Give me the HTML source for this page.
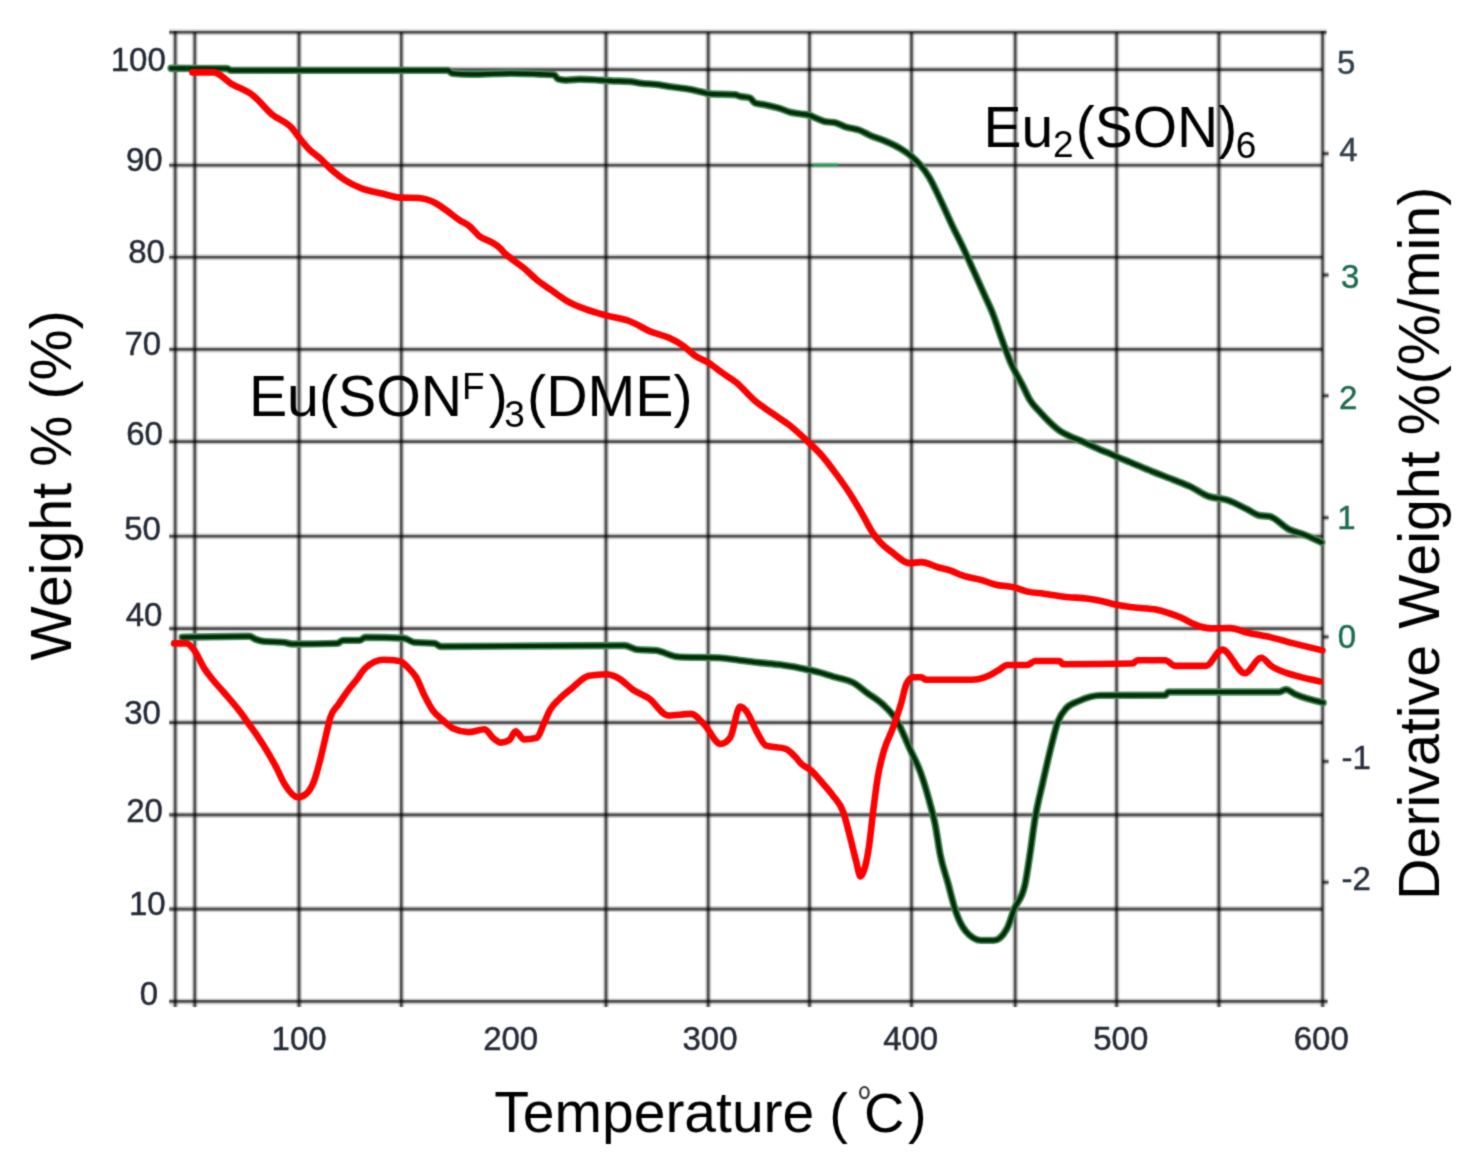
<!DOCTYPE html>
<html><head><meta charset="utf-8"><title>TGA</title>
<style>html,body{margin:0;padding:0;background:#fff;}body{width:1473px;height:1171px;overflow:hidden;}svg{display:block;font-family:"Liberation Sans",sans-serif;}</style></head><body>
<svg width="1473" height="1171" viewBox="0 0 1473 1171">
<defs><filter id="soft" filterUnits="userSpaceOnUse" x="0" y="0" width="1473" height="1171" color-interpolation-filters="sRGB"><feConvolveMatrix order="3" kernelMatrix="0.03240 0.11520 0.03240 0.11520 0.40960 0.11520 0.03240 0.11520 0.03240" divisor="1" edgeMode="duplicate" preserveAlpha="true"/></filter></defs>
<g filter="url(#soft)">
<rect width="1473" height="1171" fill="#fff"/>
<g fill="#000">
<text transform="translate(71,485.4) rotate(-90)" font-size="57.5" text-anchor="middle">Weight % (%)</text>
<text transform="translate(1439,543.3) rotate(-90)" font-size="57.4" text-anchor="middle">Derivative Weight %(%/min)</text>
<text x="494.3" y="1131.5" font-size="57">Temperature</text>
<text x="829.3" y="1131.5" font-size="56">(</text>
<ellipse cx="864.4" cy="1092.6" rx="4.3" ry="5.6" fill="none" stroke="#333" stroke-width="2.2"/>
<text x="864.1" y="1131.5" font-size="56">C</text>
<text x="908.1" y="1131.5" font-size="56">)</text>
<text x="983.4" y="146.6" font-size="57">Eu</text>
<text x="1053.0" y="157.2" font-size="37">2</text>
<text x="1075.7" y="146.6" font-size="57">(SON)</text>
<text x="1235.8" y="158.3" font-size="37">6</text>
<text x="248.9" y="415.7" font-size="57.3">Eu(SON</text>
<text x="462.0" y="398.5" font-size="37">F</text>
<text x="488.8" y="415.7" font-size="57.3">)</text>
<text x="504.3" y="426.7" font-size="37">3</text>
<text x="527.1" y="415.7" font-size="57.3">(DME)</text>
</g>
<g stroke="#000" fill="none">
<line x1="194.8" y1="32.2" x2="194.8" y2="1006.9" stroke-width="6.0" stroke-opacity="0.2"/>
<line x1="299.0" y1="32.2" x2="299.0" y2="1006.9" stroke-width="6.0" stroke-opacity="0.2"/>
<line x1="401.3" y1="32.2" x2="401.3" y2="1006.9" stroke-width="6.0" stroke-opacity="0.2"/>
<line x1="606.0" y1="32.2" x2="606.0" y2="1006.9" stroke-width="6.0" stroke-opacity="0.2"/>
<line x1="708.2" y1="32.2" x2="708.2" y2="1006.9" stroke-width="6.0" stroke-opacity="0.2"/>
<line x1="809.5" y1="32.2" x2="809.5" y2="1006.9" stroke-width="6.0" stroke-opacity="0.2"/>
<line x1="911.5" y1="32.2" x2="911.5" y2="1006.9" stroke-width="6.0" stroke-opacity="0.2"/>
<line x1="1015.2" y1="32.2" x2="1015.2" y2="1006.9" stroke-width="6.0" stroke-opacity="0.2"/>
<line x1="1116.6" y1="32.2" x2="1116.6" y2="1006.9" stroke-width="6.0" stroke-opacity="0.2"/>
<line x1="1218.9" y1="32.2" x2="1218.9" y2="1006.9" stroke-width="6.0" stroke-opacity="0.2"/>
<line x1="169.2" y1="69.6" x2="1322.6" y2="69.6" stroke-width="6.0" stroke-opacity="0.2"/>
<line x1="169.2" y1="165.2" x2="1322.6" y2="165.2" stroke-width="6.0" stroke-opacity="0.2"/>
<line x1="169.2" y1="257.2" x2="1322.6" y2="257.2" stroke-width="6.0" stroke-opacity="0.2"/>
<line x1="169.2" y1="349.4" x2="1322.6" y2="349.4" stroke-width="6.0" stroke-opacity="0.2"/>
<line x1="169.2" y1="441.6" x2="1322.6" y2="441.6" stroke-width="6.0" stroke-opacity="0.2"/>
<line x1="169.2" y1="536.2" x2="1322.6" y2="536.2" stroke-width="6.0" stroke-opacity="0.2"/>
<line x1="169.2" y1="628.6" x2="1322.6" y2="628.6" stroke-width="6.0" stroke-opacity="0.2"/>
<line x1="169.2" y1="722.6" x2="1322.6" y2="722.6" stroke-width="6.0" stroke-opacity="0.2"/>
<line x1="169.2" y1="814.9" x2="1322.6" y2="814.9" stroke-width="6.0" stroke-opacity="0.2"/>
<line x1="169.2" y1="909.1" x2="1322.6" y2="909.1" stroke-width="6.0" stroke-opacity="0.2"/>
<line x1="175.2" y1="31.200000000000003" x2="175.2" y2="1006.9" stroke-width="6.0" stroke-opacity="0.2"/>
<line x1="1322.6" y1="31.200000000000003" x2="1322.6" y2="1006.9" stroke-width="6.0" stroke-opacity="0.2"/>
<line x1="169.2" y1="32.2" x2="1326.6" y2="32.2" stroke-width="6.0" stroke-opacity="0.2"/>
<line x1="169.2" y1="1001.4" x2="1327.6" y2="1001.4" stroke-width="6.0" stroke-opacity="0.2"/>
<line x1="1322.6" y1="153.6" x2="1328.6" y2="153.6" stroke-width="6.0" stroke-opacity="0.2"/>
<line x1="1322.6" y1="275.0" x2="1328.6" y2="275.0" stroke-width="6.0" stroke-opacity="0.2"/>
<line x1="1322.6" y1="395.8" x2="1328.6" y2="395.8" stroke-width="6.0" stroke-opacity="0.2"/>
<line x1="1322.6" y1="517.7" x2="1328.6" y2="517.7" stroke-width="6.0" stroke-opacity="0.2"/>
<line x1="1322.6" y1="636.9" x2="1328.6" y2="636.9" stroke-width="6.0" stroke-opacity="0.2"/>
<line x1="1322.6" y1="761.4" x2="1328.6" y2="761.4" stroke-width="6.0" stroke-opacity="0.2"/>
<line x1="1322.6" y1="882.3" x2="1328.6" y2="882.3" stroke-width="6.0" stroke-opacity="0.2"/>
<line x1="194.8" y1="32.2" x2="194.8" y2="1006.9" stroke-width="2.6" stroke-opacity="0.6"/>
<line x1="299.0" y1="32.2" x2="299.0" y2="1006.9" stroke-width="2.6" stroke-opacity="0.6"/>
<line x1="401.3" y1="32.2" x2="401.3" y2="1006.9" stroke-width="2.6" stroke-opacity="0.6"/>
<line x1="606.0" y1="32.2" x2="606.0" y2="1006.9" stroke-width="2.6" stroke-opacity="0.6"/>
<line x1="708.2" y1="32.2" x2="708.2" y2="1006.9" stroke-width="2.6" stroke-opacity="0.6"/>
<line x1="809.5" y1="32.2" x2="809.5" y2="1006.9" stroke-width="2.6" stroke-opacity="0.6"/>
<line x1="911.5" y1="32.2" x2="911.5" y2="1006.9" stroke-width="2.6" stroke-opacity="0.6"/>
<line x1="1015.2" y1="32.2" x2="1015.2" y2="1006.9" stroke-width="2.6" stroke-opacity="0.6"/>
<line x1="1116.6" y1="32.2" x2="1116.6" y2="1006.9" stroke-width="2.6" stroke-opacity="0.6"/>
<line x1="1218.9" y1="32.2" x2="1218.9" y2="1006.9" stroke-width="2.6" stroke-opacity="0.6"/>
<line x1="169.2" y1="69.6" x2="1322.6" y2="69.6" stroke-width="2.6" stroke-opacity="0.6"/>
<line x1="169.2" y1="165.2" x2="1322.6" y2="165.2" stroke-width="2.6" stroke-opacity="0.6"/>
<line x1="169.2" y1="257.2" x2="1322.6" y2="257.2" stroke-width="2.6" stroke-opacity="0.6"/>
<line x1="169.2" y1="349.4" x2="1322.6" y2="349.4" stroke-width="2.6" stroke-opacity="0.6"/>
<line x1="169.2" y1="441.6" x2="1322.6" y2="441.6" stroke-width="2.6" stroke-opacity="0.6"/>
<line x1="169.2" y1="536.2" x2="1322.6" y2="536.2" stroke-width="2.6" stroke-opacity="0.6"/>
<line x1="169.2" y1="628.6" x2="1322.6" y2="628.6" stroke-width="2.6" stroke-opacity="0.6"/>
<line x1="169.2" y1="722.6" x2="1322.6" y2="722.6" stroke-width="2.6" stroke-opacity="0.6"/>
<line x1="169.2" y1="814.9" x2="1322.6" y2="814.9" stroke-width="2.6" stroke-opacity="0.6"/>
<line x1="169.2" y1="909.1" x2="1322.6" y2="909.1" stroke-width="2.6" stroke-opacity="0.6"/>
<line x1="175.2" y1="31.200000000000003" x2="175.2" y2="1006.9" stroke-width="2.6" stroke-opacity="0.6"/>
<line x1="1322.6" y1="31.200000000000003" x2="1322.6" y2="1006.9" stroke-width="2.6" stroke-opacity="0.6"/>
<line x1="169.2" y1="32.2" x2="1326.6" y2="32.2" stroke-width="2.6" stroke-opacity="0.6"/>
<line x1="169.2" y1="1001.4" x2="1327.6" y2="1001.4" stroke-width="2.6" stroke-opacity="0.6"/>
<line x1="1322.6" y1="153.6" x2="1328.6" y2="153.6" stroke-width="2.6" stroke-opacity="0.6"/>
<line x1="1322.6" y1="275.0" x2="1328.6" y2="275.0" stroke-width="2.6" stroke-opacity="0.6"/>
<line x1="1322.6" y1="395.8" x2="1328.6" y2="395.8" stroke-width="2.6" stroke-opacity="0.6"/>
<line x1="1322.6" y1="517.7" x2="1328.6" y2="517.7" stroke-width="2.6" stroke-opacity="0.6"/>
<line x1="1322.6" y1="636.9" x2="1328.6" y2="636.9" stroke-width="2.6" stroke-opacity="0.6"/>
<line x1="1322.6" y1="761.4" x2="1328.6" y2="761.4" stroke-width="2.6" stroke-opacity="0.6"/>
<line x1="1322.6" y1="882.3" x2="1328.6" y2="882.3" stroke-width="2.6" stroke-opacity="0.6"/>
</g>
<line x1="813" y1="164.8" x2="838" y2="164.8" stroke="#10b050" stroke-width="2.6" stroke-opacity="0.85"/>
<path d="M171.00,68.30 C189.67,68.33 208.33,68.37 227.00,68.50 C228.33,68.51 229.67,70.40 231.00,70.40 C303.33,70.40 375.67,70.40 448.00,70.40 C449.40,70.40 450.80,73.15 452.20,73.30 C458.30,73.97 464.40,74.30 470.50,74.30 C484.10,74.30 497.70,73.30 511.30,73.30 C520.87,73.30 530.43,73.83 540.00,74.20 C544.67,74.38 549.33,74.40 554.00,74.80 C555.33,74.91 556.67,78.60 558.00,79.00 C560.67,79.80 563.33,80.20 566.00,80.20 C570.67,80.20 575.33,79.30 580.00,79.30 C586.67,79.30 593.33,79.83 600.00,80.20 C603.33,80.38 606.67,80.63 610.00,80.80 C616.67,81.14 623.33,81.03 630.00,81.50 C633.33,81.73 636.67,82.65 640.00,83.10 C646.67,84.00 653.33,83.77 660.00,84.80 C663.33,85.32 666.67,86.13 670.00,86.70 C676.67,87.84 683.33,88.12 690.00,89.40 C693.33,90.04 696.67,90.87 700.00,91.60 C703.33,92.33 706.67,93.56 710.00,93.80 C718.33,94.40 726.67,94.10 735.00,94.70 C736.67,94.82 738.33,95.86 740.00,96.30 C743.33,97.19 746.67,96.83 750.00,97.90 C751.67,98.43 753.33,102.40 755.00,103.00 C758.33,104.20 761.67,104.11 765.00,104.80 C770.00,105.83 775.00,106.90 780.00,108.50 C783.33,109.57 786.67,111.32 790.00,112.20 C793.33,113.08 796.67,113.27 800.00,113.80 C803.33,114.33 806.67,114.33 810.00,115.40 C811.67,115.93 813.33,116.97 815.00,117.70 C818.33,119.16 821.67,120.93 825.00,121.60 C828.33,122.27 831.67,121.93 835.00,122.60 C838.33,123.27 841.67,125.55 845.00,126.70 C850.00,128.42 855.00,128.44 860.00,130.40 C863.33,131.71 866.67,133.81 870.00,135.30 C875.00,137.53 880.00,138.83 885.00,141.00 C890.00,143.17 895.00,145.26 900.00,148.30 C903.33,150.33 906.67,152.48 910.00,155.20 C913.33,157.92 916.67,160.70 920.00,164.60 C923.00,168.11 926.00,172.05 929.00,177.00 C932.97,183.54 936.93,192.59 940.90,200.90 C944.57,208.58 948.23,217.06 951.90,224.80 C955.80,233.03 959.70,240.39 963.60,248.70 C967.20,256.37 970.80,264.63 974.40,272.60 C978.00,280.57 981.60,288.44 985.20,296.50 C987.77,302.25 990.33,307.38 992.90,313.90 C995.70,321.01 998.50,330.09 1001.30,337.80 C1004.30,346.06 1007.30,354.66 1010.30,361.70 C1014.47,371.48 1018.63,377.49 1022.80,385.70 C1025.20,390.43 1027.60,396.11 1030.00,400.10 C1033.33,405.64 1036.67,408.27 1040.00,412.00 C1043.33,415.73 1046.67,419.33 1050.00,422.50 C1053.33,425.67 1056.67,428.68 1060.00,431.00 C1063.33,433.32 1066.67,434.82 1070.00,436.40 C1073.33,437.98 1076.67,439.03 1080.00,440.50 C1083.33,441.97 1086.67,443.67 1090.00,445.20 C1093.33,446.73 1096.67,448.28 1100.00,449.70 C1103.33,451.12 1106.67,452.30 1110.00,453.70 C1113.33,455.10 1116.67,456.68 1120.00,458.10 C1123.33,459.52 1126.67,460.82 1130.00,462.20 C1137.37,465.25 1144.73,468.53 1152.10,471.50 C1159.17,474.35 1166.23,476.89 1173.30,479.70 C1179.27,482.08 1185.23,484.12 1191.20,487.00 C1196.63,489.63 1202.07,493.85 1207.50,496.00 C1214.03,498.59 1220.57,497.92 1227.10,500.10 C1233.60,502.27 1240.10,505.88 1246.60,509.00 C1250.97,511.10 1255.33,514.70 1259.70,515.50 C1262.97,516.10 1266.23,515.80 1269.50,516.40 C1276.00,517.59 1282.50,526.19 1289.00,529.40 C1294.43,532.08 1299.87,532.93 1305.30,535.10 C1310.73,537.27 1316.17,539.83 1321.60,542.40" stroke="#4a8a5e" stroke-width="7.4" fill="none" stroke-linejoin="round" stroke-linecap="round"/>
<path d="M171.00,68.30 C189.67,68.33 208.33,68.37 227.00,68.50 C228.33,68.51 229.67,70.40 231.00,70.40 C303.33,70.40 375.67,70.40 448.00,70.40 C449.40,70.40 450.80,73.15 452.20,73.30 C458.30,73.97 464.40,74.30 470.50,74.30 C484.10,74.30 497.70,73.30 511.30,73.30 C520.87,73.30 530.43,73.83 540.00,74.20 C544.67,74.38 549.33,74.40 554.00,74.80 C555.33,74.91 556.67,78.60 558.00,79.00 C560.67,79.80 563.33,80.20 566.00,80.20 C570.67,80.20 575.33,79.30 580.00,79.30 C586.67,79.30 593.33,79.83 600.00,80.20 C603.33,80.38 606.67,80.63 610.00,80.80 C616.67,81.14 623.33,81.03 630.00,81.50 C633.33,81.73 636.67,82.65 640.00,83.10 C646.67,84.00 653.33,83.77 660.00,84.80 C663.33,85.32 666.67,86.13 670.00,86.70 C676.67,87.84 683.33,88.12 690.00,89.40 C693.33,90.04 696.67,90.87 700.00,91.60 C703.33,92.33 706.67,93.56 710.00,93.80 C718.33,94.40 726.67,94.10 735.00,94.70 C736.67,94.82 738.33,95.86 740.00,96.30 C743.33,97.19 746.67,96.83 750.00,97.90 C751.67,98.43 753.33,102.40 755.00,103.00 C758.33,104.20 761.67,104.11 765.00,104.80 C770.00,105.83 775.00,106.90 780.00,108.50 C783.33,109.57 786.67,111.32 790.00,112.20 C793.33,113.08 796.67,113.27 800.00,113.80 C803.33,114.33 806.67,114.33 810.00,115.40 C811.67,115.93 813.33,116.97 815.00,117.70 C818.33,119.16 821.67,120.93 825.00,121.60 C828.33,122.27 831.67,121.93 835.00,122.60 C838.33,123.27 841.67,125.55 845.00,126.70 C850.00,128.42 855.00,128.44 860.00,130.40 C863.33,131.71 866.67,133.81 870.00,135.30 C875.00,137.53 880.00,138.83 885.00,141.00 C890.00,143.17 895.00,145.26 900.00,148.30 C903.33,150.33 906.67,152.48 910.00,155.20 C913.33,157.92 916.67,160.70 920.00,164.60 C923.00,168.11 926.00,172.05 929.00,177.00 C932.97,183.54 936.93,192.59 940.90,200.90 C944.57,208.58 948.23,217.06 951.90,224.80 C955.80,233.03 959.70,240.39 963.60,248.70 C967.20,256.37 970.80,264.63 974.40,272.60 C978.00,280.57 981.60,288.44 985.20,296.50 C987.77,302.25 990.33,307.38 992.90,313.90 C995.70,321.01 998.50,330.09 1001.30,337.80 C1004.30,346.06 1007.30,354.66 1010.30,361.70 C1014.47,371.48 1018.63,377.49 1022.80,385.70 C1025.20,390.43 1027.60,396.11 1030.00,400.10 C1033.33,405.64 1036.67,408.27 1040.00,412.00 C1043.33,415.73 1046.67,419.33 1050.00,422.50 C1053.33,425.67 1056.67,428.68 1060.00,431.00 C1063.33,433.32 1066.67,434.82 1070.00,436.40 C1073.33,437.98 1076.67,439.03 1080.00,440.50 C1083.33,441.97 1086.67,443.67 1090.00,445.20 C1093.33,446.73 1096.67,448.28 1100.00,449.70 C1103.33,451.12 1106.67,452.30 1110.00,453.70 C1113.33,455.10 1116.67,456.68 1120.00,458.10 C1123.33,459.52 1126.67,460.82 1130.00,462.20 C1137.37,465.25 1144.73,468.53 1152.10,471.50 C1159.17,474.35 1166.23,476.89 1173.30,479.70 C1179.27,482.08 1185.23,484.12 1191.20,487.00 C1196.63,489.63 1202.07,493.85 1207.50,496.00 C1214.03,498.59 1220.57,497.92 1227.10,500.10 C1233.60,502.27 1240.10,505.88 1246.60,509.00 C1250.97,511.10 1255.33,514.70 1259.70,515.50 C1262.97,516.10 1266.23,515.80 1269.50,516.40 C1276.00,517.59 1282.50,526.19 1289.00,529.40 C1294.43,532.08 1299.87,532.93 1305.30,535.10 C1310.73,537.27 1316.17,539.83 1321.60,542.40" stroke="#002f06" stroke-width="4.2" fill="none" stroke-linejoin="round" stroke-linecap="round"/>
<path d="M182.20,637.30 C204.60,636.80 227.00,636.30 249.40,636.30 C251.43,636.30 253.47,638.50 255.50,639.30 C258.23,640.37 260.97,641.13 263.70,641.40 C270.47,642.07 277.23,641.73 284.00,642.40 C286.73,642.67 289.47,644.00 292.20,644.00 C307.13,644.00 322.07,643.80 337.00,643.40 C339.03,643.35 341.07,640.40 343.10,640.40 C348.53,640.40 353.97,640.40 359.40,640.40 C361.43,640.40 363.47,637.30 365.50,637.30 C378.40,637.30 391.30,637.63 404.20,638.30 C407.60,638.48 411.00,642.07 414.40,642.40 C421.20,643.07 428.00,642.73 434.80,643.40 C436.83,643.60 438.87,646.50 440.90,646.50 C502.07,646.50 563.23,645.50 624.40,645.50 C628.77,645.50 633.13,649.21 637.50,649.60 C643.47,650.13 649.43,649.87 655.40,650.40 C663.00,651.08 670.60,656.54 678.20,656.90 C692.13,657.57 706.07,657.23 720.00,657.90 C726.67,658.22 733.33,659.50 740.00,660.30 C746.67,661.10 753.33,661.97 760.00,662.70 C766.67,663.43 773.33,663.80 780.00,664.70 C786.67,665.60 793.33,666.80 800.00,668.10 C806.67,669.40 813.33,670.65 820.00,672.50 C824.23,673.68 828.47,675.18 832.70,676.50 C839.83,678.73 846.97,678.93 854.10,683.10 C858.37,685.59 862.63,689.50 866.90,692.70 C872.60,696.97 878.30,699.85 884.00,705.50 C888.27,709.73 892.53,713.37 896.80,720.50 C901.07,727.63 905.33,738.98 909.60,748.30 C913.17,756.09 916.73,761.94 920.30,771.80 C923.17,779.72 926.03,788.96 928.90,799.50 C931.03,807.34 933.17,814.24 935.30,825.20 C936.93,833.59 938.57,846.28 940.20,854.60 C942.77,867.67 945.33,873.40 947.90,882.80 C950.47,892.20 953.03,903.45 955.60,911.00 C959.03,921.10 962.47,927.36 965.90,931.40 C971.00,937.40 976.10,940.40 981.20,940.40 C985.47,940.40 989.73,940.40 994.00,940.40 C998.27,940.40 1002.53,936.57 1006.80,928.90 C1009.37,924.29 1011.93,914.76 1014.50,908.40 C1017.93,899.89 1021.37,900.73 1024.80,885.40 C1026.50,877.81 1028.20,865.70 1029.90,854.60 C1031.60,843.50 1033.30,829.14 1035.00,818.80 C1037.57,803.19 1040.13,794.43 1042.70,782.90 C1045.27,771.37 1047.83,759.89 1050.40,749.60 C1052.93,739.44 1055.47,728.31 1058.00,721.50 C1060.67,714.33 1063.33,711.58 1066.00,708.50 C1070.33,703.50 1074.67,702.98 1079.00,701.00 C1086.13,697.73 1093.27,695.44 1100.40,695.40 C1122.00,695.27 1143.60,695.33 1165.20,695.20 C1166.27,695.19 1167.33,692.00 1168.40,692.00 C1205.33,692.00 1242.27,692.00 1279.20,692.00 C1281.37,692.00 1283.53,689.50 1285.70,689.50 C1288.97,689.50 1292.23,692.94 1295.50,694.40 C1304.73,698.52 1313.97,700.56 1323.20,702.60" stroke="#4a8a5e" stroke-width="7.4" fill="none" stroke-linejoin="round" stroke-linecap="round"/>
<path d="M182.20,637.30 C204.60,636.80 227.00,636.30 249.40,636.30 C251.43,636.30 253.47,638.50 255.50,639.30 C258.23,640.37 260.97,641.13 263.70,641.40 C270.47,642.07 277.23,641.73 284.00,642.40 C286.73,642.67 289.47,644.00 292.20,644.00 C307.13,644.00 322.07,643.80 337.00,643.40 C339.03,643.35 341.07,640.40 343.10,640.40 C348.53,640.40 353.97,640.40 359.40,640.40 C361.43,640.40 363.47,637.30 365.50,637.30 C378.40,637.30 391.30,637.63 404.20,638.30 C407.60,638.48 411.00,642.07 414.40,642.40 C421.20,643.07 428.00,642.73 434.80,643.40 C436.83,643.60 438.87,646.50 440.90,646.50 C502.07,646.50 563.23,645.50 624.40,645.50 C628.77,645.50 633.13,649.21 637.50,649.60 C643.47,650.13 649.43,649.87 655.40,650.40 C663.00,651.08 670.60,656.54 678.20,656.90 C692.13,657.57 706.07,657.23 720.00,657.90 C726.67,658.22 733.33,659.50 740.00,660.30 C746.67,661.10 753.33,661.97 760.00,662.70 C766.67,663.43 773.33,663.80 780.00,664.70 C786.67,665.60 793.33,666.80 800.00,668.10 C806.67,669.40 813.33,670.65 820.00,672.50 C824.23,673.68 828.47,675.18 832.70,676.50 C839.83,678.73 846.97,678.93 854.10,683.10 C858.37,685.59 862.63,689.50 866.90,692.70 C872.60,696.97 878.30,699.85 884.00,705.50 C888.27,709.73 892.53,713.37 896.80,720.50 C901.07,727.63 905.33,738.98 909.60,748.30 C913.17,756.09 916.73,761.94 920.30,771.80 C923.17,779.72 926.03,788.96 928.90,799.50 C931.03,807.34 933.17,814.24 935.30,825.20 C936.93,833.59 938.57,846.28 940.20,854.60 C942.77,867.67 945.33,873.40 947.90,882.80 C950.47,892.20 953.03,903.45 955.60,911.00 C959.03,921.10 962.47,927.36 965.90,931.40 C971.00,937.40 976.10,940.40 981.20,940.40 C985.47,940.40 989.73,940.40 994.00,940.40 C998.27,940.40 1002.53,936.57 1006.80,928.90 C1009.37,924.29 1011.93,914.76 1014.50,908.40 C1017.93,899.89 1021.37,900.73 1024.80,885.40 C1026.50,877.81 1028.20,865.70 1029.90,854.60 C1031.60,843.50 1033.30,829.14 1035.00,818.80 C1037.57,803.19 1040.13,794.43 1042.70,782.90 C1045.27,771.37 1047.83,759.89 1050.40,749.60 C1052.93,739.44 1055.47,728.31 1058.00,721.50 C1060.67,714.33 1063.33,711.58 1066.00,708.50 C1070.33,703.50 1074.67,702.98 1079.00,701.00 C1086.13,697.73 1093.27,695.44 1100.40,695.40 C1122.00,695.27 1143.60,695.33 1165.20,695.20 C1166.27,695.19 1167.33,692.00 1168.40,692.00 C1205.33,692.00 1242.27,692.00 1279.20,692.00 C1281.37,692.00 1283.53,689.50 1285.70,689.50 C1288.97,689.50 1292.23,692.94 1295.50,694.40 C1304.73,698.52 1313.97,700.56 1323.20,702.60" stroke="#002f06" stroke-width="4.2" fill="none" stroke-linejoin="round" stroke-linecap="round"/>
<path d="M192.40,72.40 C199.53,72.40 206.67,72.40 213.80,72.40 C219.53,72.40 225.27,80.14 231.00,83.60 C238.50,88.13 246.00,89.82 253.50,95.80 C259.60,100.67 265.70,108.96 271.80,114.20 C278.60,120.04 285.40,120.36 292.20,128.40 C294.23,130.80 296.27,133.90 298.30,136.50 C301.70,140.85 305.10,145.19 308.50,148.70 C312.57,152.90 316.63,155.18 320.70,158.90 C324.80,162.65 328.90,167.52 333.00,171.10 C337.07,174.65 341.13,177.68 345.20,180.30 C350.63,183.80 356.07,186.29 361.50,188.40 C368.27,191.02 375.03,191.90 381.80,193.50 C387.93,194.95 394.07,197.33 400.20,197.60 C406.30,197.87 412.40,197.73 418.50,198.00 C423.93,198.24 429.37,199.97 434.80,202.70 C438.87,204.75 442.93,207.92 447.00,210.80 C451.07,213.68 455.13,217.28 459.20,220.00 C462.60,222.27 466.00,223.38 469.40,226.10 C472.80,228.82 476.20,233.67 479.60,236.30 C483.67,239.44 487.73,239.89 491.80,242.40 C494.53,244.09 497.27,245.41 500.00,248.10 C501.33,249.41 502.67,251.23 504.00,252.60 C506.73,255.40 509.47,257.14 512.20,259.30 C516.27,262.52 520.33,265.12 524.40,268.50 C528.50,271.91 532.60,276.33 536.70,279.70 C541.43,283.59 546.17,286.57 550.90,289.90 C556.33,293.72 561.77,297.99 567.20,301.10 C573.30,304.59 579.40,306.90 585.50,309.20 C592.30,311.76 599.10,313.50 605.90,315.40 C614.03,317.67 622.17,318.38 630.30,321.50 C637.10,324.11 643.90,328.79 650.70,331.60 C656.80,334.12 662.90,334.95 669.00,337.80 C673.77,340.02 678.53,342.51 683.30,345.90 C687.37,348.80 691.43,353.38 695.50,356.10 C699.57,358.82 703.63,359.74 707.70,362.20 C712.47,365.08 717.23,369.22 722.00,372.60 C726.77,375.98 731.53,378.59 736.30,382.50 C742.40,387.50 748.50,395.29 754.60,400.50 C760.73,405.74 766.87,409.47 773.00,413.80 C778.40,417.61 783.80,420.77 789.20,425.00 C795.33,429.80 801.47,435.47 807.60,441.30 C812.33,445.80 817.07,450.09 821.80,455.50 C826.57,460.95 831.33,467.42 836.10,473.90 C840.83,480.33 845.57,486.84 850.30,494.20 C854.33,500.47 858.37,507.31 862.40,514.30 C865.80,520.19 869.20,527.51 872.60,532.60 C875.30,536.64 878.00,539.86 880.70,542.80 C884.80,547.26 888.90,549.96 893.00,553.00 C898.40,557.00 903.80,563.10 909.20,563.10 C913.30,563.10 917.40,562.10 921.50,562.10 C926.93,562.10 932.37,565.68 937.80,567.20 C941.87,568.34 945.93,568.93 950.00,570.30 C954.07,571.67 958.13,573.96 962.20,575.40 C969.00,577.80 975.80,578.35 982.60,580.40 C986.67,581.63 990.73,583.41 994.80,584.50 C1001.60,586.32 1008.40,585.82 1015.20,587.60 C1019.27,588.67 1023.33,590.61 1027.40,591.60 C1032.83,592.92 1038.27,592.95 1043.70,593.70 C1050.47,594.63 1057.23,595.89 1064.00,596.70 C1072.17,597.68 1080.33,597.66 1088.50,598.80 C1092.33,599.34 1096.17,599.93 1100.00,600.70 C1105.43,601.79 1110.87,603.70 1116.30,604.80 C1121.73,605.90 1127.17,606.59 1132.60,607.30 C1140.73,608.37 1148.87,608.10 1157.00,609.70 C1160.80,610.45 1164.60,611.76 1168.40,613.00 C1172.77,614.42 1177.13,615.89 1181.50,617.80 C1185.83,619.70 1190.17,622.70 1194.50,624.40 C1199.93,626.53 1205.37,628.40 1210.80,628.40 C1217.30,628.40 1223.80,628.10 1230.30,628.10 C1235.73,628.10 1241.17,631.19 1246.60,632.50 C1254.77,634.48 1262.93,635.50 1271.10,637.40 C1279.23,639.30 1287.37,641.83 1295.50,643.90 C1304.47,646.18 1313.43,648.29 1322.40,650.40" stroke="#ff0000" stroke-width="6.6" fill="none" stroke-linejoin="round" stroke-linecap="round"/>
<path d="M174.10,643.40 C178.17,643.40 182.23,643.40 186.30,643.40 C189.00,643.40 191.70,647.03 194.40,650.50 C197.80,654.88 201.20,663.67 204.60,668.90 C207.40,673.21 210.20,676.52 213.00,680.00 C216.80,684.73 220.60,688.57 224.40,693.00 C229.83,699.33 235.27,705.39 240.70,712.60 C243.43,716.23 246.17,720.18 248.90,724.00 C251.60,727.78 254.30,731.42 257.00,735.40 C260.80,741.01 264.60,746.84 268.40,753.30 C271.13,757.95 273.87,762.80 276.60,768.00 C279.30,773.14 282.00,779.92 284.70,784.30 C289.07,791.39 293.43,797.30 297.80,797.30 C300.50,797.30 303.20,796.23 305.90,794.10 C308.63,791.94 311.37,788.28 314.10,781.00 C316.27,775.23 318.43,766.62 320.60,758.20 C322.77,749.78 324.93,739.44 327.10,730.50 C328.17,726.10 329.23,720.91 330.30,717.50 C333.03,708.77 335.77,708.57 338.50,704.40 C342.30,698.60 346.10,693.09 349.90,688.10 C352.07,685.26 354.23,682.78 356.40,680.00 C359.43,676.11 362.47,670.62 365.50,667.90 C371.60,662.43 377.70,659.70 383.80,659.70 C387.20,659.70 390.60,659.90 394.00,660.30 C396.00,660.53 398.00,660.60 400.00,661.20 C402.70,662.01 405.40,665.01 408.10,667.70 C410.83,670.43 413.57,672.84 416.30,677.50 C419.00,682.11 421.70,689.99 424.40,695.40 C427.13,700.87 429.87,706.20 432.60,710.10 C435.87,714.76 439.13,716.87 442.40,719.80 C446.20,723.21 450.00,727.08 453.80,728.80 C458.67,731.00 463.53,732.10 468.40,732.10 C473.83,732.10 479.27,729.30 484.70,729.30 C487.43,729.30 490.17,735.58 492.90,737.80 C495.60,740.00 498.30,742.60 501.00,742.60 C503.73,742.60 506.47,741.80 509.20,740.20 C511.37,738.93 513.53,731.20 515.70,731.20 C518.40,731.20 521.10,739.40 523.80,739.40 C528.17,739.40 532.53,738.87 536.90,737.80 C539.07,737.27 541.23,729.32 543.40,724.70 C545.57,720.08 547.73,714.03 549.90,710.10 C553.17,704.17 556.43,702.04 559.70,698.70 C563.50,694.81 567.30,691.98 571.10,688.90 C577.07,684.07 583.03,676.87 589.00,675.80 C594.97,674.73 600.93,674.20 606.90,674.20 C608.93,674.20 610.97,674.88 613.00,675.60 C615.33,676.43 617.67,677.66 620.00,679.10 C624.20,681.69 628.40,686.54 632.60,689.50 C638.03,693.32 643.47,694.61 648.90,698.40 C655.40,702.93 661.90,715.50 668.40,715.50 C676.00,715.50 683.60,713.90 691.20,713.90 C695.57,713.90 699.93,720.21 704.30,724.50 C709.73,729.83 715.17,744.00 720.60,744.00 C723.83,744.00 727.07,741.83 730.30,737.50 C733.57,733.12 736.83,706.60 740.10,706.60 C742.27,706.60 744.43,708.80 746.60,711.50 C749.87,715.57 753.13,725.30 756.40,731.00 C759.67,736.70 762.93,744.63 766.20,745.70 C772.70,747.83 779.20,746.77 785.70,748.90 C788.97,749.97 792.23,753.65 795.50,757.10 C797.23,758.93 798.97,761.43 800.70,763.20 C804.27,766.83 807.83,767.46 811.40,770.70 C814.93,773.91 818.47,778.42 822.00,782.50 C825.57,786.62 829.13,790.32 832.70,795.30 C836.27,800.28 839.83,802.07 843.40,812.40 C845.53,818.58 847.67,827.72 849.80,835.90 C851.93,844.08 854.07,853.65 856.20,861.50 C857.63,866.77 859.07,876.40 860.50,876.40 C861.93,876.40 863.37,872.99 864.80,867.90 C866.20,862.92 867.60,855.95 869.00,846.50 C870.43,836.83 871.87,821.58 873.30,810.20 C874.73,798.82 876.17,787.08 877.60,778.20 C879.73,764.98 881.87,757.99 884.00,750.40 C886.83,740.32 889.67,736.78 892.50,729.00 C895.37,721.13 898.23,713.08 901.10,703.40 C902.90,697.32 904.70,687.40 906.50,683.80 C908.67,679.47 910.83,677.30 913.00,677.30 C915.73,677.30 918.47,677.30 921.20,677.30 C922.83,677.30 924.47,679.70 926.10,679.70 C941.30,679.70 956.50,679.70 971.70,679.70 C976.03,679.70 980.37,678.79 984.70,677.30 C989.07,675.80 993.43,673.11 997.80,670.70 C1001.03,668.92 1004.27,665.00 1007.50,665.00 C1014.03,665.00 1020.57,665.00 1027.10,665.00 C1029.80,665.00 1032.50,661.00 1035.20,661.00 C1043.37,661.00 1051.53,661.00 1059.70,661.00 C1060.77,661.00 1061.83,664.20 1062.90,664.20 C1086.13,664.20 1109.37,663.97 1132.60,663.50 C1134.23,663.47 1135.87,660.20 1137.50,660.20 C1146.73,660.20 1155.97,660.20 1165.20,660.20 C1168.47,660.20 1171.73,665.90 1175.00,665.90 C1185.30,665.90 1195.60,665.90 1205.90,665.90 C1211.33,665.90 1216.77,649.60 1222.20,649.60 C1229.80,649.60 1237.40,673.20 1245.00,673.20 C1250.43,673.20 1255.87,657.80 1261.30,657.80 C1264.57,657.80 1267.83,663.60 1271.10,665.90 C1279.23,671.63 1287.37,673.12 1295.50,675.70 C1303.67,678.29 1311.83,679.85 1320.00,681.40" stroke="#ff0000" stroke-width="6.6" fill="none" stroke-linejoin="round" stroke-linecap="round"/>
<g font-size="33" text-anchor="middle" fill="#242a36" stroke="#242a36" stroke-width="0.45">
<text x="138.3" y="71.4">100</text>
<text x="144.3" y="170.7">90</text>
<text x="146.6" y="262.6">80</text>
<text x="142.8" y="355.4">70</text>
<text x="144.6" y="445.4">60</text>
<text x="142.5" y="539.9">50</text>
<text x="144.0" y="626.4">40</text>
<text x="142.5" y="724.0">30</text>
<text x="144.6" y="822.4">20</text>
<text x="147.3" y="915.4">10</text>
<text x="148.9" y="1005.4">0</text>
<text x="299.1" y="1050.2">100</text>
<text x="510.7" y="1050.2">200</text>
<text x="710.0" y="1050.2">300</text>
<text x="910.7" y="1050.2">400</text>
<text x="1120.8" y="1050.2">500</text>
<text x="1321.3" y="1050.2">600</text>
<text x="1346.3" y="74.2" fill="#33404a" stroke="#33404a">5</text>
<text x="1348.4" y="161.4" fill="#33404a" stroke="#33404a">4</text>
<text x="1350.3" y="288.2" fill="#1d6a52" stroke="#1d6a52">3</text>
<text x="1348.3" y="409.4" fill="#1d6a52" stroke="#1d6a52">2</text>
<text x="1346.5" y="528.7" fill="#1d6a52" stroke="#1d6a52">1</text>
<text x="1347.0" y="647.6" fill="#1d6a52" stroke="#1d6a52">0</text>
<text x="1356.1" y="768.8" fill="#2a2f3f" stroke="#2a2f3f">-1</text>
<text x="1356.1" y="890.4" fill="#2a2f3f" stroke="#2a2f3f">-2</text>
</g>
</g>
</svg></body></html>
